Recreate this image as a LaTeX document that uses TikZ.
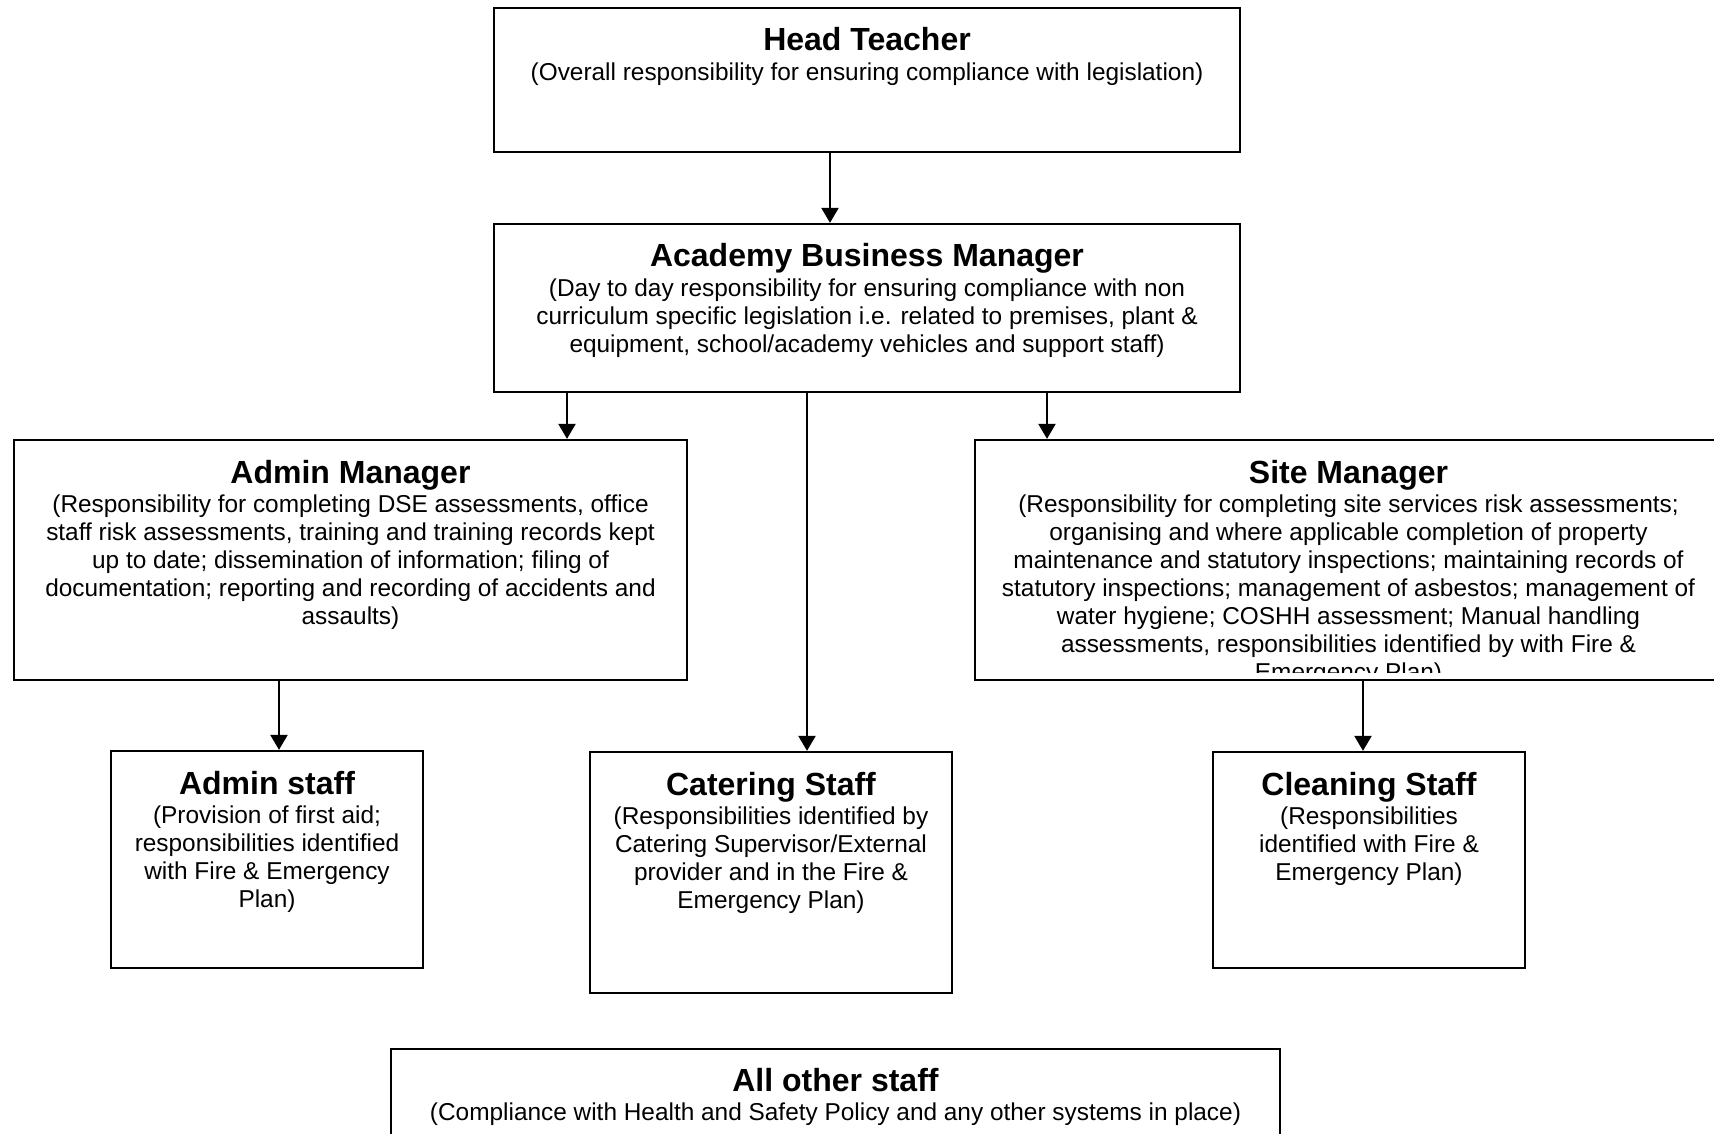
\documentclass[tikz,border=0pt]{standalone}
\usepackage{fontspec}
\setmainfont{Liberation Sans}
\usetikzlibrary{arrows.meta}
\tikzset{
 box/.style={draw, line width=2.3pt, rectangle, inner sep=0pt},
 ttl/.style={anchor=base, inner sep=0pt, font=\fontsize{32}{36}\selectfont\bfseries},
 bdy/.style={anchor=north, inner sep=0pt, align=center, font=\fontsize{24.4}{28}\selectfont},
 arr/.style={line width=2.3pt, -{Triangle[width=17pt,length=15pt]}}
}
\newcommand{\fl}{\rule{0pt}{18pt}}
\begin{document}
\begin{tikzpicture}[x=1pt,y=-1pt]
\useasboundingbox (0,0) rectangle (1714,1134);
\clip (0,0) rectangle (1714,1134);
\fill[white] (0,0) rectangle (1714,1134);

% boxes
\node[box, minimum width=746pt, minimum height=144pt] (ht) at (867,80) {};
\node[box, minimum width=746pt, minimum height=168pt] (abm) at (867,308) {};
\node[box, minimum width=673pt, minimum height=240pt] (am) at (350.5,560) {};
\node[box, minimum width=747pt, minimum height=240pt] (sm) at (1348.5,560) {};
\node[box, minimum width=312pt, minimum height=217pt] (as) at (267,859.5) {};
\node[box, minimum width=362pt, minimum height=241pt] (cs) at (771,872.5) {};
\node[box, minimum width=312pt, minimum height=216pt] (cl) at (1369,860) {};
\node[box, minimum width=889pt, minimum height=251pt] (ao) at (835.5,1174.5) {};

% texts
\node[ttl] (htT) at (867,51) {Head Teacher};
\node[bdy] (htB) at (867,62) {\fl(Overall responsibility for ensuring compliance with legislation)};

\node[ttl] (abmT) at (867,267) {Academy Business Manager};
\node[bdy] (abmB) at (867,278) {\fl(Day to day responsibility for ensuring compliance with non\\curriculum specific legislation i.e. related to premises, plant \&\\equipment, school/academy vehicles and support staff)};

\node[ttl] (amT) at (350.5,483) {Admin Manager};
\node[bdy] (amB) at (350.5,494) {\fl(Responsibility for completing DSE assessments, office\\staff risk assessments, training and training records kept\\up to date; dissemination of information; filing of\\documentation; reporting and recording of accidents and\\assaults)};

\node[ttl] (smT) at (1348.5,483) {Site Manager};
\begin{scope}
\clip (975,440) rectangle (1714,672);
\node[bdy] (smB) at (1348.5,494) {\fl(Responsibility for completing site services risk assessments;\\organising and where applicable completion of property\\maintenance and statutory inspections; maintaining records of\\statutory inspections; management of asbestos; management of\\water hygiene; COSHH assessment; Manual handling\\assessments, responsibilities identified by with Fire \&\\Emergency Plan)};
\end{scope}

\node[ttl] (asT) at (267,794) {Admin staff};
\node[bdy] (asB) at (267,805) {\fl(Provision of first aid;\\responsibilities identified\\with Fire \& Emergency\\Plan)};

\node[ttl] (csT) at (771,795) {Catering Staff};
\node[bdy] (csB) at (771,806) {\fl(Responsibilities identified by\\Catering Supervisor/External\\provider and in the Fire \&\\Emergency Plan)};

\node[ttl] (clT) at (1369,795) {Cleaning Staff};
\node[bdy] (clB) at (1369,806) {\fl(Responsibilities\\identified with Fire \&\\Emergency Plan)};

\node[ttl] (aoT) at (835.5,1091) {All other staff};
\node[bdy] (aoB) at (835.5,1102) {\fl(Compliance with Health and Safety Policy and any other systems in place)};

% connectors
\coordinate (x1) at (830,0);
\coordinate (x2) at (567,0);
\coordinate (x3) at (807,0);
\coordinate (x4) at (1047,0);
\coordinate (x5) at (279,0);
\coordinate (x6) at (1363,0);
\draw[arr] (ht.south -| x1) -- (abm.north -| x1);
\draw[arr] (abm.south -| x2) -- (am.north -| x2);
\draw[arr] (abm.south -| x3) -- (cs.north -| x3);
\draw[arr] (abm.south -| x4) -- (sm.north -| x4);
\draw[arr] (am.south -| x5) -- (as.north -| x5);
\draw[arr] (sm.south -| x6) -- (cl.north -| x6);
\end{tikzpicture}
\end{document}
